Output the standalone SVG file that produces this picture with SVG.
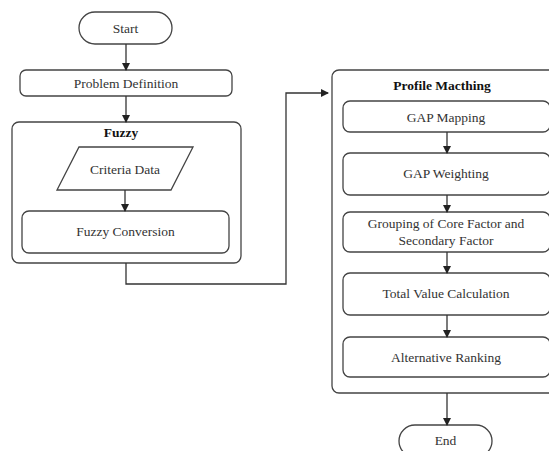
<svg xmlns="http://www.w3.org/2000/svg" width="549" height="451" viewBox="0 0 549 451">
<defs>
<marker id="ah" markerWidth="8" markerHeight="8" refX="7" refY="4" orient="auto" markerUnits="userSpaceOnUse">
<path d="M0,0 L8,4 L0,8 Z" fill="#222"/>
</marker>
<style>
.box{fill:#fff;stroke:#444;stroke-width:1.3}
text{font-family:'Liberation Serif','Times New Roman','DejaVu Serif',serif;font-size:13.5px;fill:#333;text-anchor:middle;dominant-baseline:central}
.b{font-weight:bold;fill:#111}
.c{fill:none;stroke:#333;stroke-width:1.3;marker-end:url(#ah)}
</style>
</defs>
<rect width="549" height="451" fill="#fff"/>
<g id="fuzzy">
<rect class="box" x="12" y="122" width="229" height="141" rx="7"/>
<text class="b" x="121" y="132">Fuzzy</text>
</g>
<g id="profile">
<rect class="box" x="332" y="70" width="230" height="323" rx="7"/>
<text class="b" x="442" y="85">Profile Macthing</text>
</g>
<g id="start">
<rect class="box" x="79" y="12" width="93" height="32" rx="16"/>
<text x="125.5" y="28">Start</text>
</g>
<g id="problem">
<rect class="box" x="20" y="70" width="212" height="26" rx="6"/>
<text x="126" y="83">Problem Definition</text>
</g>
<g id="criteria">
<polygon class="box" points="79,147 193,147 171,190 57,190"/>
<text x="125" y="169">Criteria Data</text>
</g>
<g id="conversion">
<rect class="box" x="22" y="211" width="207" height="42" rx="7"/>
<text x="125.5" y="231">Fuzzy Conversion</text>
</g>
<g id="gapmap">
<rect class="box" x="343" y="101" width="207" height="31" rx="7"/>
<text x="446" y="117">GAP Mapping</text>
</g>
<g id="gapweight">
<rect class="box" x="343" y="153" width="207" height="42" rx="7"/>
<text x="446" y="173">GAP Weighting</text>
</g>
<g id="grouping">
<rect class="box" x="343" y="212" width="207" height="40" rx="7"/>
<text x="446" y="223">Grouping of Core Factor and</text>
<text x="446" y="240">Secondary Factor</text>
</g>
<g id="total">
<rect class="box" x="343" y="273" width="207" height="42" rx="7"/>
<text x="446" y="293">Total Value Calculation</text>
</g>
<g id="ranking">
<rect class="box" x="343" y="337" width="207" height="40" rx="7"/>
<text x="446" y="357">Alternative Ranking</text>
</g>
<g id="end">
<rect class="box" x="399" y="425" width="93" height="32" rx="16"/>
<text x="445.5" y="440">End</text>
</g>
<g id="connectors">
<path class="c" d="M126,44 V70"/>
<path class="c" d="M126,96 V122"/>
<path class="c" d="M125,190 V211"/>
<path class="c" d="M126,263 V284 H286 V93 H328"/>
<path class="c" d="M447,132 V153"/>
<path class="c" d="M447,195 V212"/>
<path class="c" d="M447,252 V273"/>
<path class="c" d="M447,315 V337"/>
<path class="c" d="M447,393 V425"/>
</g>
</svg>
